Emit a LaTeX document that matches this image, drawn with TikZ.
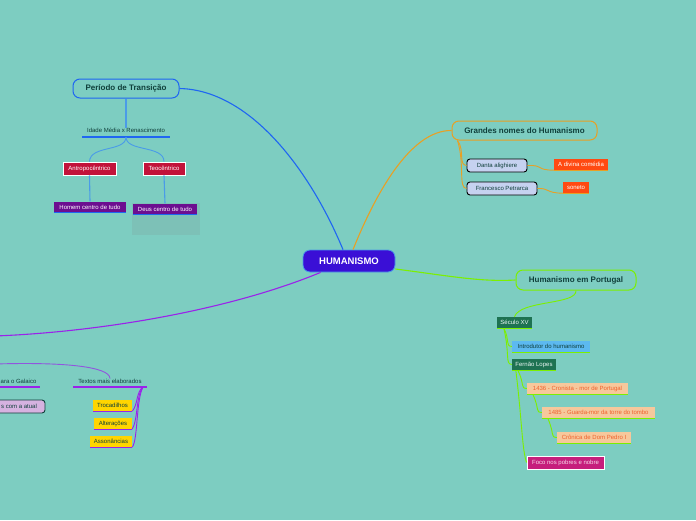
\documentclass[tikz,border=0pt]{standalone}
\usepackage{fontspec}
\setmainfont{Liberation Sans}
\usetikzlibrary{positioning, calc}
\definecolor{fundo}{HTML}{7DCDC1}
\definecolor{escuro}{HTML}{0F3F3A}
\definecolor{azul}{HTML}{1F66F2}
\definecolor{azulclaro}{HTML}{4A9BE8}
\definecolor{central}{HTML}{3A0FD6}
\definecolor{laranja}{HTML}{E8A024}
\definecolor{lima}{HTML}{7CF000}
\definecolor{roxo}{HTML}{9A22EA}
\definecolor{vermelho}{HTML}{C2123A}
\definecolor{violeta}{HTML}{6C0E90}
\definecolor{lavanda}{HTML}{C6D2F0}
\definecolor{laranjavivo}{HTML}{FF4A12}
\definecolor{verdeesc}{HTML}{1E7252}
\definecolor{ceu}{HTML}{5CB9F0}
\definecolor{pessego}{HTML}{F6C89C}
\definecolor{coral}{HTML}{F0602C}
\definecolor{magenta}{HTML}{C61E7C}
\definecolor{amarelo}{HTML}{FFD500}
\definecolor{lilas}{HTML}{D6B2E0}

\begin{document}
\begin{tikzpicture}[x=1pt, y=-1pt,
    topico/.style={rounded corners=7pt, draw, line width=1pt, fill=fundo,
                   inner sep=0pt, text=escuro,
                   font=\fontsize{8}{9}\selectfont\bfseries},
    caixa/.style={inner sep=0pt, minimum height=11pt,
                  font=\fontsize{6}{7}\selectfont},
    rotulo/.style={inner sep=0pt, text=escuro, font=\fontsize{6}{7}\selectfont},
    liga/.style={line width=1.1pt},
    fino/.style={line width=0.9pt}
  ]
  \fill[fundo] (0,0) rectangle (696,520);
  \useasboundingbox (0,0) rectangle (696,520);

  % centro
  \node[rounded corners=7pt, fill=central, draw=azulclaro, line width=0.8pt,
        minimum width=92pt, minimum height=22pt, inner sep=0pt, text=white,
        font=\fontsize{9.5}{11}\selectfont\bfseries] (hum) at (349,261) {HUMANISMO};

  % Periodo de Transicao
  \node[topico, draw=azul, minimum width=106pt, minimum height=19pt] (per) at (126,88.5) {Período de Transição};
  \node[rotulo] (idade) at (126,130) {Idade Média x Renascimento};
  \draw[azul, line width=1.2pt] (82,137) -- (170,137);
  \node[caixa, fill=vermelho, draw=white, line width=0.8pt, text=white, minimum width=53pt, minimum height=13pt] (antro) at (89.5,168.5) {Antropocêntrico};
  \node[caixa, fill=vermelho, draw=white, line width=0.8pt, text=white, minimum width=42pt, minimum height=13pt] (teo) at (164,168.5) {Teocêntrico};
  \node[caixa, fill=violeta, text=white, minimum width=72pt] (homem) at (90,207) {Homem centro de tudo};
  \fill[fundo!85!gray] (132,203) rectangle (200,235);
  \node[caixa, fill=violeta, text=white, minimum width=64pt] (deus) at (165,209) {Deus centro de tudo};
  \draw[azul, line width=1.2pt] (homem.south west) -- (homem.south east);
  \draw[azul, line width=1.2pt] (deus.south west) -- (deus.south east);

  \draw[azul, liga] (hum.north) ++(-6,0) .. controls (310,170) and (250,90) .. (per.east);
  \draw[azulclaro, liga] (per.south) -- (idade.north);
  \draw[azulclaro, fino] (126,137) .. controls (126,152) and (90,145) .. (antro.north);
  \draw[azulclaro, fino] (126,137) .. controls (126,152) and (164,145) .. (teo.north);
  \draw[azulclaro, liga] (antro.south) -- (homem.north);
  \draw[azulclaro, liga] (teo.south) -- (deus.north);

  % Grandes nomes
  \node[topico, draw=laranja, minimum width=145pt, minimum height=19pt] (gra) at (524.5,130.5) {Grandes nomes do Humanismo};
  \node[caixa, fill=lavanda, draw=black, rounded corners=3pt, line width=0.9pt, text=escuro, minimum width=60pt, minimum height=13pt] (dante) at (497,165.5) {Danta alighiere};
  \node[caixa, fill=lavanda, draw=black, rounded corners=3pt, line width=0.9pt, text=escuro, minimum width=70pt, minimum height=13pt] (petr) at (502,188.5) {Francesco Petrarca};
  \node[caixa, fill=laranjavivo, text=white, minimum width=54pt] (divina) at (581,164.5) {A divina comédia};
  \node[caixa, fill=laranjavivo, text=white, minimum width=26pt] (soneto) at (576,187.5) {soneto};
  \draw[laranja, liga] (divina.south west) -- (divina.south east);
  \draw[laranja, liga] (soneto.south west) -- (soneto.south east);

  \draw[laranja, liga] (hum.north) ++(4,0) .. controls (375,195) and (410,130) .. (gra.west);
  \draw[laranja, fino] (gra.south west) ++(6,0) .. controls (465,150) and (458,165) .. (dante.west);
  \draw[laranja, fino] (gra.south west) ++(6,0) .. controls (465,165) and (458,188) .. (petr.west);
  \draw[laranja, fino] (dante.east) .. controls (545,165) and (535,170) .. (divina.south west);
  \draw[laranja, fino] (petr.east) .. controls (550,188) and (545,193) .. (soneto.south west);

  % Humanismo em Portugal
  \node[topico, draw=lima, minimum width=120pt, minimum height=20pt] (port) at (576,280) {Humanismo em Portugal};
  \node[caixa, fill=verdeesc, text=white!85!fundo, minimum width=35pt] (sec) at (514.5,322.5) {Século XV};
  \node[caixa, fill=ceu, text=escuro, minimum width=78pt] (intro) at (551,346.5) {Introdutor do humanismo};
  \node[caixa, fill=verdeesc, text=white!85!fundo, minimum width=44pt] (fern) at (534,364.5) {Fernão Lopes};
  \node[caixa, fill=pessego, text=coral, minimum width=101pt] (cron) at (577.5,388.5) {1436 - Cronista - mor de Portugal};
  \node[caixa, fill=pessego, text=coral, minimum width=113pt] (guarda) at (598.5,412.5) {1485 - Guarda-mor da torre do tombo};
  \node[caixa, fill=pessego, text=coral, minimum width=74pt] (cronica) at (594,437.5) {Crônica de Dom Pedro I};
  \node[caixa, fill=magenta, draw=white, line width=0.8pt, text=white!85!magenta, minimum width=77pt, minimum height=13pt] (foco) at (565.5,462.5) {Foco nos pobres e nobre};
  \foreach \n in {sec, intro, fern, cron, guarda, cronica}
    \draw[lima, line width=1.2pt] (\n.south west) -- (\n.south east);

  \draw[lima, liga] (hum.east) ++(0,8) .. controls (450,276) and (480,282) .. (port.west);
  \draw[lima, fino] (port.south) .. controls (577,305) and (520,300) .. (sec.north);
  \draw[lima, fino] (sec.south west) ++(7,0) .. controls (510,340) and (505,346) .. (intro.west);
  \draw[lima, fino] (sec.south west) ++(7,0) .. controls (510,355) and (505,364) .. (fern.west);
  \draw[lima, fino] (fern.south west) ++(6,0) .. controls (525,385) and (520,388) .. (cron.west);
  \draw[lima, fino] (cron.south west) ++(6,0) .. controls (540,410) and (535,412) .. (guarda.west);
  \draw[lima, fino] (guarda.south west) ++(6,0) .. controls (555,435) and (550,437) .. (cronica.west);
  \draw[lima, fino] (fern.south west) ++(4,0) .. controls (522,420) and (522,450) .. (foco.west);

  % ramo da esquerda
  \node[rotulo, anchor=west] (galaico) at (0.5,381) {ara o Galaico};
  \draw[roxo, line width=1.2pt] (-1,387) -- (40,387);
  \node[rotulo] (textos) at (110,381) {Textos mais elaborados};
  \draw[roxo, line width=1.2pt] (73,387) -- (147,387);
  \draw[fill=lilas, draw=escuro, rounded corners=3pt, line width=0.9pt] (-20,400) rectangle (45,413);
  \node[rotulo, anchor=west] (atual) at (1,406.5) {s com a atual};
  \node[caixa, fill=amarelo, text=escuro, minimum width=39pt] (troca) at (112.5,405.5) {Trocadilhos};
  \node[caixa, fill=amarelo, text=escuro, minimum width=38pt] (alter) at (113,423.5) {Alterações};
  \node[caixa, fill=amarelo, text=escuro, minimum width=42pt] (asson) at (111,441.5) {Assonâncias};
  \foreach \n in {troca, alter, asson}
    \draw[roxo, line width=1.2pt] (\n.south west) -- (\n.south east);

  \draw[roxo, liga] (hum.south west) ++(18,0) .. controls (230,310) and (100,332) .. (-5,336);
  \draw[roxo!70!fundo, fino] (-5,364) .. controls (60,362) and (110,366) .. (textos.north);
  \draw[roxo, fino] (143,387) .. controls (136,392) and (138,405) .. (troca.south east);
  \draw[roxo, fino] (143,387) .. controls (136,395) and (138,420) .. (alter.south east);
  \draw[roxo, fino] (143,387) .. controls (136,400) and (138,440) .. (asson.south east);
\end{tikzpicture}
\end{document}
